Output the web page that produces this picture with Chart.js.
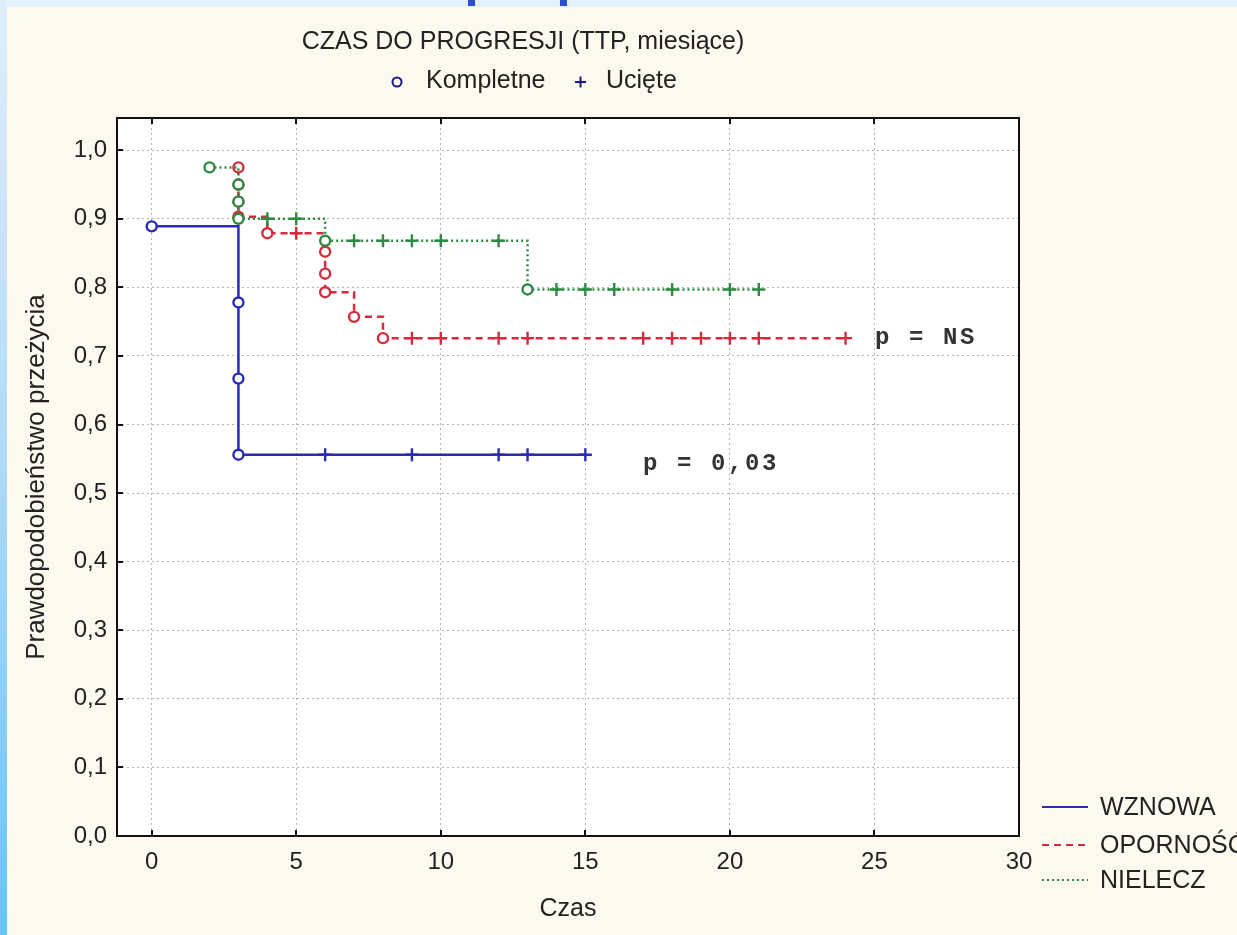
<!DOCTYPE html>
<html><head><meta charset="utf-8">
<script src="https://cdn.jsdelivr.net/npm/chart.js@4/dist/chart.umd.min.js"></script>
<style>
html,body{margin:0;padding:0;width:1237px;height:935px;overflow:hidden;background:#fdf9ee;}
#frameTop{position:absolute;left:0;top:0;width:1237px;height:7px;background:#e4f1fc;}
#frameLeft{position:absolute;left:0;top:0;width:7px;height:935px;background:linear-gradient(#e0eefb,#b6dbf8 45%,#66c4ff);}
.mark{position:absolute;top:0;height:6px;width:7px;background:#2a4fd0;}
#c{position:absolute;left:0;top:0;}
</style></head><body>
<div id="frameTop"></div><div id="frameLeft"></div>
<div class="mark" style="left:468px"></div><div class="mark" style="left:560px"></div>
<canvas id="c" width="1237" height="935"></canvas>
<script>
// ---- data ----
const xTicks = [0, 5, 10, 15, 20, 25, 30];
const yTicks = [0, 0.1, 0.2, 0.3, 0.4, 0.5, 0.6, 0.7, 0.8, 0.9, 1.0];

const wznowaX = [0, 3, 3, 3, 6, 9, 12, 13, 15];
const wznowaY = [0.889, 0.778, 0.667, 0.556, 0.556, 0.556, 0.556, 0.556, 0.556];
const wznowaCens = [0, 0, 0, 0, 1, 1, 1, 1, 1];

const opornoscX = [3, 3, 3, 3, 4, 5, 6, 6, 6, 7, 8, 9, 10, 12, 13, 17, 18, 19, 20, 21, 24];
const opornoscY = [0.975, 0.95, 0.925, 0.903, 0.879, 0.879, 0.852, 0.820, 0.793, 0.757, 0.726,
                   0.726, 0.726, 0.726, 0.726, 0.726, 0.726, 0.726, 0.726, 0.726, 0.726];
const opornoscCens = [0, 0, 0, 0, 0, 1, 0, 0, 0, 0, 0, 1, 1, 1, 1, 1, 1, 1, 1, 1, 1];

const nieleczX = [2, 3, 3, 3, 4, 5, 6, 7, 8, 9, 10, 12, 13, 14, 15, 16, 18, 20, 21];
const nieleczY = [0.975, 0.95, 0.925, 0.90, 0.90, 0.90, 0.868, 0.868, 0.868, 0.868, 0.868, 0.868,
                  0.797, 0.797, 0.797, 0.797, 0.797, 0.797, 0.797];
const nieleczCens = [0, 0, 0, 0, 1, 1, 0, 1, 1, 1, 1, 1, 0, 1, 1, 1, 1, 1, 1];

const seriesNames = ['WZNOWA', 'OPORNOŚĆ', 'NIELECZ'];
const titleText = 'CZAS DO PROGRESJI (TTP, miesiące)';
const markerNames = ['Kompletne', 'Ucięte'];
const pLabels = ['p = NS', 'p = 0,03'];

const BLUE = '#2a2ab4', RED = '#d42c3c', GREEN = '#2e8a40';
const FONT = '"Liberation Sans", Arial, sans-serif';

function mkSet(label, xs, ys, cens, color, dash, order) {
  return {
    label, order,
    data: xs.map((x, i) => ({x, y: ys[i]})),
    borderColor: color, borderWidth: 2.5, borderDash: dash,
    stepped: true, fill: false, tension: 0,
    pointStyle: cens.map(c => c ? 'cross' : 'circle'),
    pointRadius: cens.map(c => c ? 6.5 : 5),
    pointBorderWidth: 2.4,
    pointBorderColor: color,
    pointBackgroundColor: '#ffffff'
  };
}

const deco = {
  id: 'deco',
  beforeDraw(chart) {
    const {ctx, chartArea: a} = chart;
    ctx.save();
    ctx.fillStyle = '#ffffff';
    ctx.fillRect(a.left, a.top, a.right - a.left, a.bottom - a.top);
    ctx.restore();
  },
  afterDraw(chart) {
    const {ctx, chartArea: a, scales} = chart;
    ctx.save();
    // frame
    ctx.strokeStyle = '#111'; ctx.lineWidth = 2; ctx.setLineDash([]);
    ctx.strokeRect(a.left, a.top, a.right - a.left, a.bottom - a.top);
    // inner ticks
    ctx.lineWidth = 2;
    ctx.beginPath();
    xTicks.forEach(v => {
      const px = Math.round(scales.x.getPixelForValue(v));
      ctx.moveTo(px, a.bottom); ctx.lineTo(px, a.bottom - 6);
      ctx.moveTo(px, a.top); ctx.lineTo(px, a.top + 6);
    });
    yTicks.forEach(v => {
      const py = Math.round(scales.y.getPixelForValue(v));
      ctx.moveTo(a.left, py); ctx.lineTo(a.left + 6, py);
    });
    ctx.stroke();

    // title
    ctx.fillStyle = '#222';
    ctx.textBaseline = 'middle';
    ctx.textAlign = 'center';
    ctx.font = '25px ' + FONT;
    ctx.fillText(titleText, 523, 42);

    // marker legend
    ctx.textAlign = 'left';
    ctx.strokeStyle = '#1a1a8c'; ctx.lineWidth = 2;
    ctx.beginPath(); ctx.arc(397, 82, 4.5, 0, Math.PI * 2); ctx.stroke();
    ctx.fillText(markerNames[0], 426, 81);
    ctx.beginPath();
    ctx.moveTo(575, 82); ctx.lineTo(586, 82);
    ctx.moveTo(580.5, 76.5); ctx.lineTo(580.5, 87.5);
    ctx.stroke();
    ctx.fillText(markerNames[1], 606, 81);

    // line legend
    const ly = [807, 845, 880];
    const cols = [BLUE, RED, GREEN];
    const dashes = [[], [7, 5], [2, 3]];
    ly.forEach((y, i) => {
      ctx.strokeStyle = cols[i]; ctx.lineWidth = 2; ctx.setLineDash(dashes[i]);
      ctx.beginPath(); ctx.moveTo(1042, y); ctx.lineTo(1088, y); ctx.stroke();
      ctx.setLineDash([]);
      ctx.fillStyle = '#222';
      ctx.font = '25px ' + FONT;
      ctx.fillText(seriesNames[i], 1100, y + 1);
    });

    // p-values
    ctx.fillStyle = '#333';
    ctx.font = 'bold 24px "Liberation Mono", "Courier New", monospace';
    ctx.letterSpacing = '2.6px';
    ctx.fillText(pLabels[0], 875, 338);
    ctx.fillText(pLabels[1], 643, 464);
    ctx.restore();
  }
};

new Chart(document.getElementById('c'), {
  type: 'line',
  data: {
    datasets: [
      mkSet(seriesNames[0], wznowaX, wznowaY, wznowaCens, BLUE, [], 3),
      mkSet(seriesNames[1], opornoscX, opornoscY, opornoscCens, RED, [7, 5], 2),
      mkSet(seriesNames[2], nieleczX, nieleczY, nieleczCens, GREEN, [2, 3], 1)
    ]
  },
  options: {
    responsive: false,
    animation: false,
    devicePixelRatio: 1,
    layout: {padding: {left: 0, top: 118, right: 218, bottom: 0}},
    plugins: {legend: {display: false}, tooltip: {enabled: false}, title: {display: false}},
    scales: {
      x: {
        type: 'linear', min: -1.2, max: 30,
        afterFit(s) { s.height = 99; },
        afterBuildTicks(s) { s.ticks = xTicks.map(v => ({value: v})); },
        ticks: {color: '#222', font: {family: FONT, size: 24}, padding: 12, maxRotation: 0, autoSkip: false,
                callback: v => String(v)},
        grid: {color: '#b4b4b4', lineWidth: 1, drawTicks: false},
        border: {display: false, dash: [2, 3]},
        title: {display: true, text: 'Czas', color: '#222', font: {family: FONT, size: 25}, padding: {top: 0, bottom: 11}}
      },
      y: {
        type: 'linear', min: 0, max: 1.047,
        afterFit(s) { s.width = 117; },
        afterBuildTicks(s) { s.ticks = yTicks.map(v => ({value: v})); },
        ticks: {color: '#222', font: {family: FONT, size: 24}, padding: 10, autoSkip: false,
                callback: v => v.toFixed(1).replace('.', ',')},
        grid: {color: '#b4b4b4', lineWidth: 1, drawTicks: false},
        border: {display: false, dash: [2, 3]},
        title: {display: true, text: 'Prawdopodobieństwo przeżycia', color: '#222',
                font: {family: FONT, size: 26}, padding: {top: 21, bottom: 0}}
      }
    }
  },
  plugins: [deco]
});
</script>
</body></html>
